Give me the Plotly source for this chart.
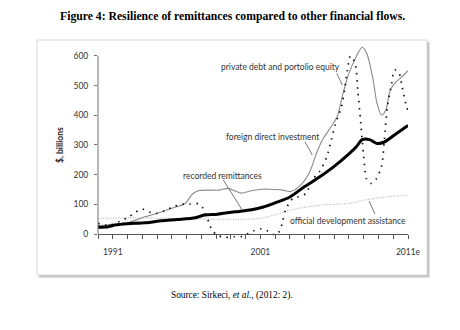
import plotly.graph_objects as go

# ---------------- data ----------------
remit_x = [1990.0, 1990.7, 1991.2, 1992.0, 1993.2, 1994.3, 1995.4, 1996.6, 1997.2, 1998.1,
           1999.3, 2000.4, 2001.2, 2002.0, 2003.0, 2004.0, 2005.0, 2006.0, 2007.0, 2007.5,
           2007.9, 2008.4, 2008.9, 2009.4, 2010.2, 2011.0]
remit_y = [23, 25, 31, 35, 38, 45, 49, 55, 64, 67,
           75, 82, 91, 105, 125, 160, 192, 228, 270, 294,
           318, 318, 305, 310, 338, 366]

fdi_x = [1990.0, 1991.0, 1992.0, 1993.0, 1994.0, 1995.0, 1995.9, 1996.4, 1996.8, 1997.5,
         1998.2, 1998.8, 1999.3, 1999.7, 2000.4, 2001.1, 2001.6, 2002.5, 2003.0, 2003.6,
         2004.3, 2004.8, 2005.2, 2005.8, 2006.2, 2006.6, 2007.0, 2007.5, 2007.9, 2008.2,
         2008.6, 2008.9, 2009.2, 2009.5, 2009.8, 2010.2, 2010.6, 2011.0]
fdi_y = [28, 33, 38, 55, 70, 87, 103, 135, 146, 148,
         148, 154, 145, 138, 146, 151, 151, 148, 143, 159,
         205, 272, 317, 362, 395, 474, 541, 598, 629, 609,
         530, 440, 401, 418, 485, 513, 530, 550]

pdpe_x = [1990.0, 1990.7, 1991.7, 1992.1, 1992.5, 1993.0, 1993.5, 1994.0, 1994.5, 1995.1,
          1995.7, 1996.2, 1996.8, 1997.1, 1997.5, 1997.7, 1998.05, 1998.6, 1999.2, 1999.75,
          2000.5, 2001.1, 2001.5, 2002.0, 2002.3, 2002.5, 2002.7, 2003.2, 2003.6, 2004.1,
          2004.5, 2005.0, 2005.5, 2005.8, 2006.1, 2006.5, 2006.7, 2006.9, 2007.1, 2007.4,
          2007.6, 2007.8, 2008.0, 2008.2, 2008.5, 2008.8, 2009.2, 2009.4, 2009.6, 2009.9,
          2010.1, 2010.4, 2010.6, 2010.9, 2011.0]
pdpe_y = [36, 29, 48, 58, 72, 84, 74, 70, 78, 92,
          100, 101, 102, 88, 41, 16, -3, -11, -9, -8,
          10, 18, 10, -3, 10, 41, 81, 120, 126, 137,
          182, 210, 260, 317, 373, 429, 485, 553, 600, 578,
          485, 373, 260, 185, 171, 182, 227, 317, 429, 508,
          553, 541, 496, 429, 415]

oda_x = [1990, 1992, 1994, 1996, 1998, 2000, 2001, 2002, 2003, 2003.6,
         2005.2, 2007.0, 2008.1, 2009.7, 2011]
oda_y = [52, 55, 54, 52, 50, 50, 53, 65, 80, 87,
         98, 103, 115, 126, 131]

year_ticks = list(range(1990, 2012))
year_labels = {1991: "1991", 2001: "2001", 2011: "2011e"}
y_ticks = [0, 100, 200, 300, 400, 500, 600]

# ---------------- layout geometry ----------------
W, H = 460, 330
ML, MR, MT, MB = 98, 52, 41, 87
PW, PH = W - ML - MR, H - MT - MB
XMIN, XMAX = 1990, 2011
YMIN, YMAX = -30, 650


def px2x(px):
    return XMIN + (px - ML) / PW * (XMAX - XMIN)


def py2y(py):
    return YMIN + (H - MB - py) / PH * (YMAX - YMIN)


def pxp(px):
    return (px - ML) / PW


def pyp(py):
    return (H - MB - py) / PH


SANS = "Lato, 'Open Sans', sans-serif"
SERIF = "'Liberation Serif', 'Times New Roman', serif"

fig = go.Figure()
fig.add_trace(go.Scatter(x=oda_x, y=oda_y, mode="lines",
                         line=dict(color="#a8a8a8", width=1, dash="1px,1.5px", shape="spline", smoothing=0.8),
                         hoverinfo="skip", name="official development assistance"))
fig.add_trace(go.Scatter(x=fdi_x, y=fdi_y, mode="lines",
                         line=dict(color="#8a8a8a", width=1.1, shape="spline", smoothing=0.8),
                         hoverinfo="skip", name="foreign direct investment"))
fig.add_trace(go.Scatter(x=pdpe_x, y=pdpe_y, mode="lines",
                         line=dict(color="#111111", width=1.7, dash="1.5px,5.5px", shape="spline", smoothing=0.8),
                         hoverinfo="skip", name="private debt and portolio equity"))
fig.add_trace(go.Scatter(x=remit_x, y=remit_y, mode="lines",
                         line=dict(color="#000000", width=3, shape="spline", smoothing=0.8),
                         hoverinfo="skip", name="recorded remittances"))

shapes = [
    # box shadow + box
    dict(type="rect", xref="paper", yref="paper", x0=pxp(39), x1=pxp(429.5), y0=pyp(42), y1=pyp(277.5),
         fillcolor="#c4c4c4", line=dict(width=0), layer="below"),
    dict(type="rect", xref="paper", yref="paper", x0=pxp(37), x1=pxp(427), y0=pyp(40), y1=pyp(275),
         fillcolor="white", line=dict(color="#d8d8d8", width=1), layer="below"),
    # y axis line (0..600)
    dict(type="line", xref="paper", yref="y", x0=0, x1=0, y0=0, y1=600,
         line=dict(color="#707070", width=1)),
]
leaders = [((336.7, 73.3), (342.3, 85)),
           ((305, 141.7), (312.3, 155)),
           ((223.3, 180), (241.7, 209.3)),
           ((369, 201), (375, 214))]
for (a, b) in leaders:
    shapes.append(dict(type="line", xref="x", yref="y", x0=px2x(a[0]), y0=py2y(a[1]),
                       x1=px2x(b[0]), y1=py2y(b[1]), line=dict(color="#555555", width=0.8)))

labels = [("private debt and portolio equity", 280.5, 67),
          ("foreign direct investment", 272, 137),
          ("recorded remittances", 222, 176),
          ("official development assistance", 347.5, 221)]
annotations = []
for t, cx, cy in labels:
    annotations.append(dict(text=t, x=px2x(cx), y=py2y(cy), xref="x", yref="y", showarrow=False,
                            xanchor="center", yanchor="middle",
                            font=dict(family=SANS, size=8.5, color="#333333")))

annotations.append(dict(text="<b>$, billions</b>", textangle=-90, x=pxp(60), y=pyp(145),
                        xref="paper", yref="paper", showarrow=False, xanchor="center", yanchor="middle",
                        font=dict(family=SANS, size=8.5, color="#222222")))
annotations.append(dict(text="<b>Figure 4: Resilience of remittances compared to other financial flows.</b>",
                        x=pxp(232), y=pyp(17), xref="paper", yref="paper", showarrow=False,
                        xanchor="center", yanchor="middle",
                        font=dict(family=SERIF, size=11.7, color="#000000")))
annotations.append(dict(text="Source: Sirkeci, <i>et al.</i>, (2012: 2).",
                        x=pxp(231.5), y=pyp(295), xref="paper", yref="paper", showarrow=False,
                        xanchor="center", yanchor="middle",
                        font=dict(family=SERIF, size=9.3, color="#000000")))

fig.update_layout(
    width=W, height=H, margin=dict(l=ML, r=MR, t=MT, b=MB, pad=0),
    paper_bgcolor="white", plot_bgcolor="rgba(0,0,0,0)",
    showlegend=False, shapes=shapes, annotations=annotations,
    xaxis=dict(range=[XMIN, XMAX], tickvals=year_ticks,
               ticktext=[year_labels.get(y, "") for y in year_ticks],
               ticks="outside", ticklen=4, tickwidth=0.8, tickcolor="#555555",
               showline=True, linecolor="#555555", linewidth=1,
               showgrid=False, zeroline=False, anchor="free",
               position=(0 - YMIN) / (YMAX - YMIN), ticklabelstandoff=6,
               tickfont=dict(family=SANS, size=8.5, color="#333333")),
    yaxis=dict(range=[YMIN, YMAX], tickvals=y_ticks, ticks="outside", ticklen=3, tickwidth=0.8,
               tickcolor="#707070", showline=False, showgrid=False, zeroline=False,
               ticklabelstandoff=4, tickfont=dict(family=SANS, size=8.5, color="#333333")),
)

fig.write_html("out.html")
